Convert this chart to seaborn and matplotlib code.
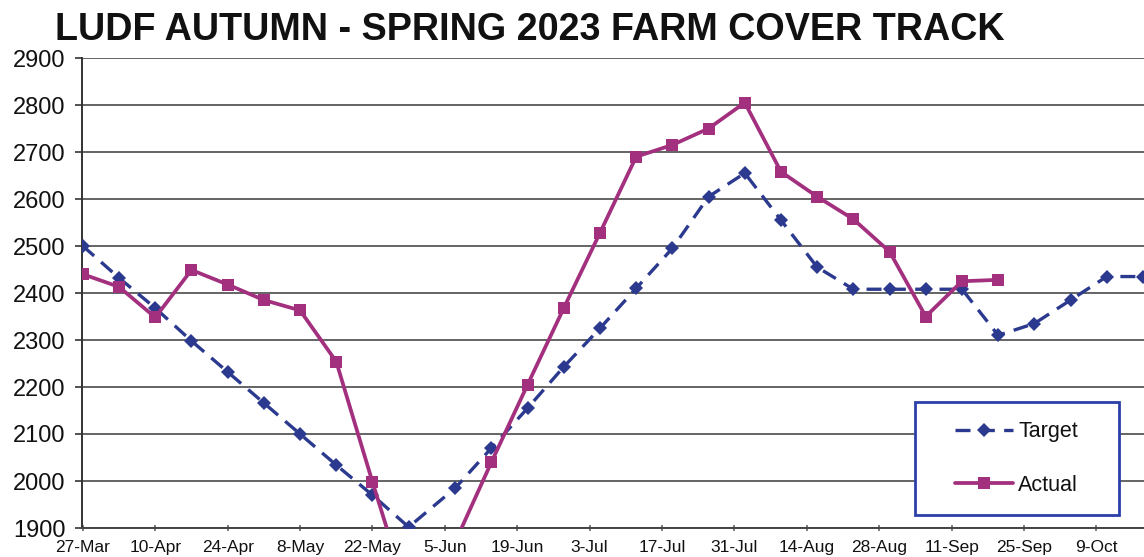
import matplotlib
matplotlib.use("Agg")
import matplotlib.pyplot as plt
from matplotlib.patches import Rectangle
import seaborn as sns
import pandas as pd
import numpy as np

# ---- data ----
start_date = "2023-03-27"
day_offsets = [0, 7, 14, 21, 28, 35, 42, 49, 56, 63, 72, 79, 86, 93, 100,
               107, 114, 121, 128, 135, 142, 149, 156, 163, 170, 177, 184, 191, 198, 205]
target = [2500, 2432, 2368, 2298, 2232, 2166, 2100, 2034, 1970, 1902,
          1985, 2070, 2155, 2243, 2325, 2410, 2495, 2605, 2655, 2555,
          2455, 2408, 2408, 2408, 2408, 2310, 2335, 2385, 2435, 2435]
actual = [2440, 2413, 2348, 2449, 2418, 2385, 2363, 2254, 1998, 1750,
          1870, 2040, 2205, 2368, 2528, 2690, 2715, 2750, 2805, 2658,
          2605, 2557, 2488, 2350, 2425, 2428]
tick_labels = ["27-Mar", "10-Apr", "24-Apr", "8-May", "22-May", "5-Jun", "19-Jun",
               "3-Jul", "17-Jul", "31-Jul", "14-Aug", "28-Aug", "11-Sep", "25-Sep", "9-Oct"]
title = "LUDF AUTUMN - SPRING 2023 FARM COVER TRACK"

dates = pd.Timestamp(start_date) + pd.to_timedelta(day_offsets, unit="D")
df_t = pd.DataFrame({"date": dates, "value": target})
df_a = pd.DataFrame({"date": dates[:len(actual)], "value": actual})

sns.set_theme(style="white")
plt.rcParams['font.family'] = ['Liberation Sans', 'DejaVu Sans']

fig = plt.figure(figsize=(11.44, 5.57), dpi=100)
ax = fig.add_axes([82/1144, 1-528/557, 1-82/1144, (528-58)/557])

c_t = "#2B3A8E"
c_a = "#A3307F"

sns.lineplot(data=df_t, x="date", y="value", ax=ax, color=c_t, lw=2.4,
             marker="D", markersize=7, markeredgewidth=0, dashes=False,
             label="Target", zorder=3)
ax.lines[-1].set_dashes([4.5, 2.8])
sns.lineplot(data=df_a, x="date", y="value", ax=ax, color=c_a, lw=2.7,
             marker="s", markersize=8.5, markeredgewidth=0, label="Actual", zorder=4)

ax.set_ylim(1900, 2900)
ax.set_yticks(np.arange(1900, 2901, 100))
ax.set_xlim(pd.Timestamp(start_date) - pd.Timedelta(hours=4), pd.Timestamp(start_date) + pd.Timedelta(days=205.2))
ticks = pd.Timestamp(start_date) + pd.to_timedelta(np.arange(len(tick_labels)) * 14, unit="D")
ax.set_xticks(ticks)
ax.set_xticklabels(tick_labels)
ax.set_xlabel("")
ax.set_ylabel("")

ax.grid(axis="y", color="#4a4a4a", lw=1.2)
ax.grid(axis="x", visible=False)
for s in ["top", "right"]:
    ax.spines[s].set_visible(False)
ax.spines["left"].set_color("#333333")
ax.spines["left"].set_linewidth(1.4)
ax.spines["bottom"].set_color("#444444")
ax.spines["bottom"].set_linewidth(1.4)

ax.tick_params(axis="y", labelsize=17, length=5, width=1.2, color="#333333", pad=7, left=True)
ax.tick_params(axis="x", labelsize=12.5, length=5, width=1.2, color="#666666", direction="inout", pad=6, bottom=True)
for t in ax.get_yticklabels() + ax.get_xticklabels():
    t.set_color("#111111")

# legend frame
ax.add_patch(Rectangle((0.784, 0.028), 0.192, 0.24, transform=ax.transAxes,
                       facecolor="white", edgecolor="#2B3FA8", lw=2, zorder=6, clip_on=False))
leg = ax.legend(loc="center", bbox_to_anchor=(0.880, 0.148), frameon=False,
                fontsize=15.5, handlelength=2.7, handletextpad=0.25, labelspacing=1.5)
leg.set_zorder(7)
for t in leg.get_texts():
    t.set_color("#111111")

fig.text(0.048, 0.946, title, fontsize=27.2, fontweight="bold", ha="left", va="center",
         color="#111111")

fig.savefig("out.png", dpi=100)
